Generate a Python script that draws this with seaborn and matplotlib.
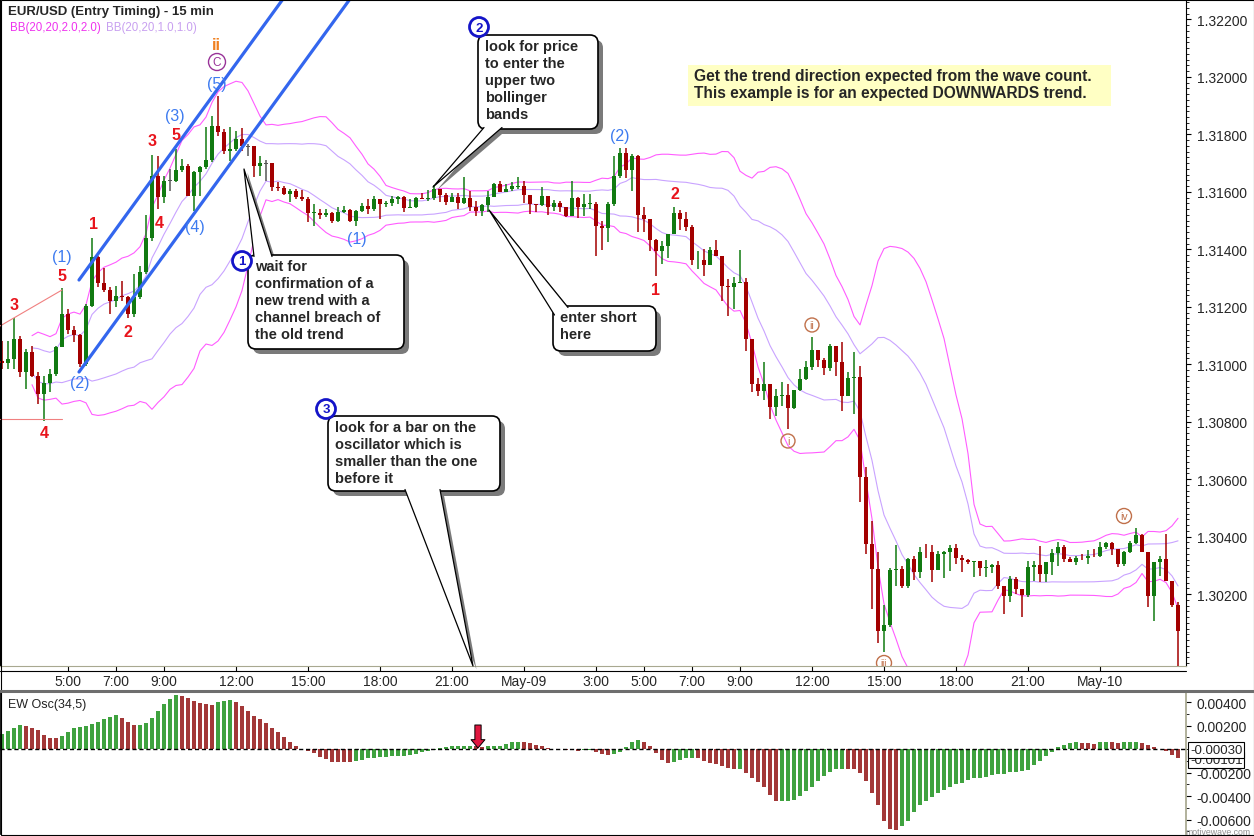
import matplotlib
matplotlib.use('Agg')
import matplotlib.pyplot as plt
from matplotlib.patches import FancyBboxPatch, Polygon, Circle, Rectangle, FancyArrowPatch
from matplotlib.lines import Line2D
from matplotlib.transforms import Affine2D
from matplotlib.ticker import MultipleLocator, FormatStrFormatter
import numpy as np
import pandas as pd
import seaborn as sns

sns.set_theme(style='white')
plt.rcParams['font.family'] = ['Liberation Sans', 'DejaVu Sans']

# ---------------- data (15 min EUR/USD bars) ----------------
start_time = '2013-05-08 02:15'
first_open = 1.31012

close = [
    1.31003, 1.31018, 1.31088, 1.30974, 1.31042, 1.30960, 1.30896, 1.30935, 1.30966, 1.31059,
    1.31175, 1.31120, 1.31102, 1.31001, 1.31204, 1.31372, 1.31283, 1.31259, 1.31221, 1.31238,
    1.31233, 1.31175, 1.31233, 1.31320, 1.31438, 1.31656, 1.31581, 1.31639, 1.31639, 1.31677,
    1.31689, 1.31586, 1.31668, 1.31685, 1.31712, 1.31830, 1.31807, 1.31743, 1.31749, 1.31784,
    1.31758, 1.31758, 1.31691, 1.31699, 1.31699, 1.31616, 1.31613, 1.31592, 1.31602, 1.31581,
    1.31575, 1.31526, 1.31528, 1.31520, 1.31525, 1.31498, 1.31529, 1.31538, 1.31498, 1.31534,
    1.31552, 1.31540, 1.31575, 1.31558, 1.31562, 1.31574, 1.31581, 1.31544, 1.31547, 1.31577,
    1.31576, 1.31578, 1.31610, 1.31590, 1.31566, 1.31581, 1.31561, 1.31578, 1.31546, 1.31534,
    1.31554, 1.31583, 1.31627, 1.31601, 1.31610, 1.31619, 1.31620, 1.31590, 1.31558, 1.31554,
    1.31584, 1.31548, 1.31561, 1.31546, 1.31517, 1.31577, 1.31546, 1.31558, 1.31559, 1.31480,
    1.31475, 1.31558, 1.31656, 1.31735, 1.31677, 1.31726, 1.31519, 1.31505, 1.31433, 1.31395,
    1.31412, 1.31453, 1.31526, 1.31505, 1.31476, 1.31362, 1.31363, 1.31346, 1.31398, 1.31378,
    1.31273, 1.31270, 1.31283, 1.31286, 1.31088, 1.30931, 1.30908, 1.30931, 1.30850, 1.30890,
    1.30894, 1.30848, 1.30910, 1.30949, 1.30991, 1.31050, 1.31016, 1.30986, 1.31065, 1.31007,
    1.30890, 1.30951, 1.30956, 1.30606, 1.30374, 1.30287, 1.30073, 1.30093, 1.30285, 1.30286,
    1.30229, 1.30322, 1.30278, 1.30348, 1.30345, 1.30285, 1.30340, 1.30345, 1.30360, 1.30325,
    1.30317, 1.30313, 1.30314, 1.30290, 1.30294, 1.30300, 1.30229, 1.30194, 1.30253, 1.30218,
    1.30197, 1.30293, 1.30300, 1.30270, 1.30313, 1.30343, 1.30363, 1.30322, 1.30313, 1.30326,
    1.30325, 1.30334, 1.30331, 1.30363, 1.30377, 1.30357, 1.30305, 1.30346, 1.30377, 1.30406,
    1.30348, 1.30194, 1.30311, 1.30322, 1.30247, 1.30162, 1.30073,
]

high = [
    1.31082, 1.31082, 1.31160, 1.31099, 1.31053, 1.31065, 1.30972, 1.30960, 1.30983, 1.31065,
    1.31264, 1.31192, 1.31134, 1.31105, 1.31210, 1.31438, 1.31378, 1.31334, 1.31268, 1.31273,
    1.31291, 1.31238, 1.31314, 1.31343, 1.31519, 1.31728, 1.31726, 1.31656, 1.31679, 1.31749,
    1.31714, 1.31697, 1.31674, 1.31689, 1.31825, 1.31865, 1.31934, 1.31819, 1.31825, 1.31813,
    1.31821, 1.31766, 1.31758, 1.31726, 1.31711, 1.31700, 1.31633, 1.31621, 1.31610, 1.31610,
    1.31607, 1.31581, 1.31558, 1.31540, 1.31540, 1.31531, 1.31546, 1.31552, 1.31540, 1.31538,
    1.31561, 1.31575, 1.31586, 1.31575, 1.31569, 1.31586, 1.31586, 1.31586, 1.31575, 1.31581,
    1.31595, 1.31607, 1.31624, 1.31610, 1.31596, 1.31595, 1.31596, 1.31650, 1.31604, 1.31569,
    1.31558, 1.31604, 1.31631, 1.31639, 1.31627, 1.31635, 1.31650, 1.31639, 1.31590, 1.31558,
    1.31616, 1.31586, 1.31571, 1.31569, 1.31546, 1.31639, 1.31583, 1.31592, 1.31592, 1.31564,
    1.31497, 1.31564, 1.31726, 1.31751, 1.31751, 1.31732, 1.31728, 1.31546, 1.31505, 1.31436,
    1.31430, 1.31453, 1.31546, 1.31538, 1.31529, 1.31483, 1.31395, 1.31401, 1.31407, 1.31433,
    1.31378, 1.31297, 1.31302, 1.31399, 1.31299, 1.31088, 1.30951, 1.31009, 1.30931, 1.30914,
    1.30937, 1.30931, 1.30910, 1.30983, 1.31012, 1.31094, 1.31050, 1.31021, 1.31070, 1.31065,
    1.31078, 1.30972, 1.31042, 1.30995, 1.30641, 1.30455, 1.30348, 1.30162, 1.30290, 1.30371,
    1.30298, 1.30324, 1.30333, 1.30364, 1.30375, 1.30371, 1.30351, 1.30351, 1.30371, 1.30375,
    1.30336, 1.30322, 1.30316, 1.30316, 1.30320, 1.30305, 1.30316, 1.30229, 1.30264, 1.30259,
    1.30218, 1.30316, 1.30316, 1.30366, 1.30313, 1.30357, 1.30382, 1.30371, 1.30328, 1.30332,
    1.30340, 1.30354, 1.30357, 1.30380, 1.30382, 1.30382, 1.30357, 1.30351, 1.30386, 1.30429,
    1.30409, 1.30348, 1.30311, 1.30332, 1.30409, 1.30247, 1.30173,
]

low = [
    1.30983, 1.30983, 1.30983, 1.30955, 1.30914, 1.30955, 1.30862, 1.30804, 1.30902, 1.30960,
    1.31059, 1.31105, 1.31076, 1.30989, 1.30995, 1.31198, 1.31268, 1.31250, 1.31175, 1.31198,
    1.31221, 1.31160, 1.31163, 1.31227, 1.31314, 1.31430, 1.31540, 1.31561, 1.31604, 1.31633,
    1.31668, 1.31586, 1.31534, 1.31586, 1.31679, 1.31703, 1.31795, 1.31732, 1.31708, 1.31743,
    1.31743, 1.31726, 1.31650, 1.31656, 1.31639, 1.31604, 1.31604, 1.31589, 1.31564, 1.31575,
    1.31569, 1.31494, 1.31482, 1.31507, 1.31511, 1.31492, 1.31495, 1.31526, 1.31495, 1.31482,
    1.31529, 1.31523, 1.31534, 1.31507, 1.31546, 1.31550, 1.31558, 1.31529, 1.31543, 1.31543,
    1.31575, 1.31569, 1.31573, 1.31564, 1.31554, 1.31566, 1.31540, 1.31558, 1.31534, 1.31515,
    1.31515, 1.31529, 1.31583, 1.31598, 1.31598, 1.31604, 1.31610, 1.31561, 1.31523, 1.31531,
    1.31552, 1.31519, 1.31534, 1.31529, 1.31511, 1.31515, 1.31508, 1.31515, 1.31540, 1.31378,
    1.31399, 1.31425, 1.31552, 1.31647, 1.31647, 1.31604, 1.31461, 1.31461, 1.31395, 1.31306,
    1.31349, 1.31369, 1.31453, 1.31468, 1.31465, 1.31344, 1.31332, 1.31306, 1.31344, 1.31378,
    1.31221, 1.31169, 1.31192, 1.31283, 1.31047, 1.30902, 1.30890, 1.30877, 1.30809, 1.30821,
    1.30856, 1.30775, 1.30844, 1.30908, 1.30946, 1.30981, 1.30989, 1.30963, 1.30977, 1.30960,
    1.30838, 1.30890, 1.30827, 1.30522, 1.30340, 1.30148, 1.30030, 1.29998, 1.30084, 1.30229,
    1.30220, 1.30220, 1.30250, 1.30255, 1.30325, 1.30243, 1.30285, 1.30255, 1.30282, 1.30305,
    1.30276, 1.30305, 1.30259, 1.30264, 1.30259, 1.30274, 1.30218, 1.30131, 1.30174, 1.30200,
    1.30119, 1.30189, 1.30247, 1.30241, 1.30241, 1.30267, 1.30299, 1.30313, 1.30313, 1.30302,
    1.30317, 1.30305, 1.30328, 1.30328, 1.30357, 1.30336, 1.30293, 1.30297, 1.30343, 1.30374,
    1.30348, 1.30154, 1.30108, 1.30264, 1.30247, 1.30154, 1.29951,
]

# EW Osc(34,5) histogram values
ew_osc = [
    0.00127, 0.00155, 0.00183, 0.00203, 0.00200, 0.00183, 0.00161, 0.00118, 0.00096, 0.00094,
    0.00110, 0.00144, 0.00178, 0.00189, 0.00195, 0.00212, 0.00231, 0.00254, 0.00276, 0.00288,
    0.00262, 0.00231, 0.00203, 0.00205, 0.00220, 0.00265, 0.00324, 0.00381, 0.00423, 0.00457,
    0.00455, 0.00434, 0.00412, 0.00389, 0.00384, 0.00372, 0.00398, 0.00409, 0.00415, 0.00400,
    0.00367, 0.00324, 0.00285, 0.00254, 0.00220, 0.00180, 0.00147, 0.00104, 0.00056, 0.00028,
    -0.00003, -0.00014, -0.00037, -0.00068, -0.00085, -0.00107, -0.00108, -0.00110, -0.00113, -0.00102,
    -0.00090, -0.00079, -0.00073, -0.00070, -0.00065, -0.00059, -0.00056, -0.00055, -0.00051, -0.00039,
    -0.00025, -0.00017, -0.00006, 0.00011, 0.00020, 0.00025, 0.00026, 0.00026, 0.00027, 0.00026,
    0.00017, 0.00025, 0.00026, 0.00027, 0.00042, 0.00059, 0.00060, 0.00056, 0.00048, 0.00034,
    0.00023, 0.00008, 0.00002, -0.00003, -0.00011, -0.00012, -0.00013, -0.00010, -0.00008, -0.00023,
    -0.00042, -0.00051, -0.00045, -0.00028, 0.00017, 0.00062, 0.00076, 0.00056, 0.00025, -0.00037,
    -0.00093, -0.00116, -0.00113, -0.00096, -0.00079, -0.00073, -0.00079, -0.00102, -0.00118, -0.00130,
    -0.00144, -0.00158, -0.00169, -0.00168, -0.00206, -0.00243, -0.00282, -0.00321, -0.00395, -0.00440,
    -0.00439, -0.00438, -0.00431, -0.00398, -0.00361, -0.00319, -0.00276, -0.00228, -0.00192, -0.00169,
    -0.00168, -0.00170, -0.00171, -0.00206, -0.00276, -0.00375, -0.00479, -0.00609, -0.00677, -0.00685,
    -0.00657, -0.00609, -0.00539, -0.00479, -0.00446, -0.00412, -0.00378, -0.00347, -0.00321, -0.00299,
    -0.00285, -0.00262, -0.00248, -0.00245, -0.00234, -0.00223, -0.00214, -0.00209, -0.00197, -0.00192,
    -0.00186, -0.00180, -0.00135, -0.00099, -0.00059, -0.00023, 0.00017, 0.00034, 0.00048, 0.00056,
    0.00055, 0.00048, 0.00042, 0.00056, 0.00057, 0.00056, 0.00051, 0.00056, 0.00057, 0.00058,
    0.00048, 0.00034, 0.00017, 0.00002, -0.00017, -0.00051, -0.00073,
]

tick_times = ['2013-05-08 05:00', '2013-05-08 07:00', '2013-05-08 09:00', '2013-05-08 12:00',
              '2013-05-08 15:00', '2013-05-08 18:00', '2013-05-08 21:00', '2013-05-09 00:00',
              '2013-05-09 03:00', '2013-05-09 05:00', '2013-05-09 07:00', '2013-05-09 09:00',
              '2013-05-09 12:00', '2013-05-09 15:00', '2013-05-09 18:00', '2013-05-09 21:00',
              '2013-05-10 00:00']

price_ticks = [1.302, 1.304, 1.306, 1.308, 1.310, 1.312, 1.314, 1.316, 1.318, 1.320, 1.322]
osc_ticks = [-0.006, -0.004, -0.002, 0.002, 0.004]

# ---------------- colours ----------------
C_UP, C_DN, C_FLAT = '#117a11', '#a30000', '#555555'
O_UP, O_DN = '#3fa23f', '#a33838'
BB2, BB1 = '#ff5cff', '#c9a3ff'
BLUE, RED, ORANGE, PURPLE, BROWN = '#3d7bf0', '#e8141c', '#f08020', '#993399', '#c0704a'

# ---------------- frame ----------------
times = pd.date_range(start_time, periods=len(close), freq='15min')
df = pd.DataFrame({'time': times, 'close': close, 'high': high, 'low': low})
df['bar'] = np.arange(len(df))
df['open'] = np.r_[first_open, df['close'].values[:-1]]
df['high'] = np.maximum(df['high'], df[['open', 'close']].max(axis=1))
df['low'] = np.minimum(df['low'], df[['open', 'close']].min(axis=1))

mid = df['close'].rolling(20, min_periods=6).mean()
sd = df['close'].rolling(20, min_periods=6).std(ddof=0)

W, H = 1254, 837
fig = plt.figure(figsize=(W / 100, H / 100), dpi=100, facecolor='white')
ref = Affine2D().scale(1 / W, -1 / H).translate(0, 1) + fig.transFigure


def axbox(x0, y0, x1, y1):
    return [x0 / W, 1 - y1 / H, (x1 - x0) / W, (y1 - y0) / H]


ax = fig.add_axes(axbox(0, 0, 1186, 667))
ax2 = fig.add_axes(axbox(0, 694, 1186, 835))

# ---------------- price panel ----------------
for series, col in [(mid + 2 * sd, BB2), (mid - 2 * sd, BB2), (mid + sd, BB1), (mid - sd, BB1)]:
    sns.lineplot(x=df['bar'], y=series, ax=ax, color=col, linewidth=0.8, zorder=2)

cols = np.where(df['close'] > df['open'], C_UP, np.where(df['close'] < df['open'], C_DN, C_FLAT))
ax.vlines(df['bar'], df['low'], df['high'], colors=cols, linewidth=1.1, zorder=3)
body = (df['close'] - df['open']).abs()
body_h = np.maximum(body, 0.000022)
body_b = df[['open', 'close']].min(axis=1) - (body_h - body) / 2
ax.bar(df['bar'], body_h, bottom=body_b, width=0.7, color=cols, linewidth=0, zorder=4)

ax.set_xlim(-1 / 3, 197.33)
ax.set_ylim(1.32271 - 667 * 0.0000348, 1.32271)
ax.set_xlabel('')
ax.set_ylabel('')

tl = pd.to_datetime(tick_times)
ax.set_xticks(times.get_indexer(tl))
ax.set_xticklabels([t.strftime('%b-%d') if t.hour == 0 else f'{t.hour}:00' for t in tl])
ax.tick_params(axis='x', direction='out', length=3.6, width=0.8, pad=2.5, labelsize=10,
               color='black', bottom=True)
ax.yaxis.tick_right()
ax.set_yticks(price_ticks)
ax.yaxis.set_major_formatter(FormatStrFormatter('%.5f'))
ax.yaxis.set_minor_locator(MultipleLocator(0.0002))
ax.tick_params(axis='y', which='major', direction='out', length=3.6, width=0.8, pad=4, labelsize=10,
               right=True, color='black')
ax.tick_params(axis='y', which='minor', direction='out', length=2.0, width=0.6, right=True, color='black')
ax.spines['top'].set_visible(False)
ax.spines['left'].set_color('black')
ax.spines['right'].set_color('black')
ax.spines['bottom'].set_color('#a8a890')
for s in ax.spines.values():
    s.set_linewidth(0.8)

# ---------------- oscillator panel ----------------
odf = pd.DataFrame({'bar': df['bar'], 'osc': ew_osc})
osc_cols = np.where(odf['osc'].diff().fillna(1) >= 0, O_UP, O_DN)
sns.barplot(data=odf, x='bar', y='osc', native_scale=True, width=0.8, color=O_UP,
            saturation=1, errorbar=None, linewidth=0, ax=ax2)
for patch, c in zip(ax2.patches, osc_cols):
    patch.set_facecolor(c)
ax2.axhline(0, color='black', lw=1.0, ls=(0, (3, 2)), zorder=5)
ax2.set_xlim(-1 / 3, 197.33)
ax2.set_ylim(-0.00723, 0.00477)
ax2.set_xlabel('')
ax2.set_ylabel('')
ax2.set_xticks([])
ax2.yaxis.tick_right()
ax2.set_yticks(osc_ticks)
ax2.yaxis.set_major_formatter(FormatStrFormatter('%.5f'))
ax2.yaxis.set_minor_locator(MultipleLocator(0.001))
ax2.tick_params(axis='y', which='major', direction='out', length=3.6, width=0.8, pad=4, labelsize=10,
                right=True, color='black')
ax2.tick_params(axis='y', which='minor', direction='out', length=2.0, width=0.6, right=True, color='black')
ax2.spines['top'].set_visible(False)
ax2.spines['bottom'].set_visible(False)
ax2.spines['left'].set_color('black')
ax2.spines['right'].set_color('#a8a890')

# ---------------- frame lines / headers ----------------
fig.add_artist(Line2D([0, 1186], [672, 672], transform=ref, color='black', lw=0.8))
fig.add_artist(Line2D([0, W], [691.5, 691.5], transform=ref, color='#6e6e6e', lw=2.2))
fig.add_artist(Rectangle((0.5, 0.5), W - 1, H - 1, transform=ref, fill=False, ec='black', lw=0.8))

fig.text(8, 12, 'EUR/USD (Entry Timing) - 15 min', transform=ref, fontsize=9.5,
         fontweight='bold', va='center', ha='left')
fig.text(10, 28, 'BB(20,20,2.0,2.0)', transform=ref, fontsize=8.3, color='#ee33ee', va='center')
fig.text(106, 28, 'BB(20,20,1.0,1.0)', transform=ref, fontsize=8.3, color='#c8a0f0', va='center')
fig.text(8, 705, 'EW Osc(34,5)', transform=ref, fontsize=9, color='#222222', va='center')
fig.text(1251, 832.5, 'motivewave.com', transform=ref, fontsize=6.3, color='#909090',
         ha='right', va='center', zorder=22)

# value tags on the oscillator axis
fig.text(1190, 761, '-0.00101', transform=ref, fontsize=9.5, va='center', ha='left', zorder=20,
         bbox=dict(boxstyle='square,pad=0.12', fc='white', ec='black', lw=0.8))
fig.text(1190, 751, '-0.00030', transform=ref, fontsize=9.5, va='center', ha='left', zorder=21,
         bbox=dict(boxstyle='square,pad=0.12', fc='white', ec='black', lw=0.8))

# entry arrow above oscillator bar
fig.add_artist(FancyArrowPatch((478, 726), (478, 749), transform=ref, mutation_scale=10,
                               arrowstyle='simple,head_length=0.6,head_width=1.0,tail_width=0.45',
                               fc='#e0173f', ec='black', lw=0.7, shrinkA=0, shrinkB=0, zorder=20))

# ---------------- wave count annotations ----------------
ax.add_line(Line2D([79, 283], [281, 0], transform=ref, color='#3366ee', lw=2.3, zorder=6))
ax.add_line(Line2D([79, 350], [373, 0], transform=ref, color='#3366ee', lw=2.3, zorder=6))
ax.add_line(Line2D([0, 62], [327, 291], transform=ref, color='#f08080', lw=0.8, zorder=5))
ax.add_line(Line2D([0, 62], [420, 420], transform=ref, color='#f08080', lw=0.8, zorder=5))

wave_labels = [
    ('ii', 216, 45, ORANGE, 'bold'), ('(5)', 217, 85, BLUE, 'normal'), ('(3)', 175, 117, BLUE, 'normal'),
    ('5', 176, 135, RED, 'bold'), ('3', 152, 142, RED, 'bold'), ('4', 159, 224, RED, 'bold'),
    ('(4)', 195, 228, BLUE, 'normal'), ('1', 93, 225, RED, 'bold'), ('(1)', 62, 258, BLUE, 'normal'),
    ('5', 62, 277, RED, 'bold'), ('3', 14, 306, RED, 'bold'), ('2', 128, 333, RED, 'bold'),
    ('(2)', 80, 384, BLUE, 'normal'), ('4', 44, 434, RED, 'bold'), ('(1)', 357, 240, BLUE, 'normal'),
    ('(2)', 620, 136, BLUE, 'normal'), ('2', 675, 195, RED, 'bold'), ('1', 656, 291, RED, 'bold'),
]
for s, x, y, c, w in wave_labels:
    ax.text(x, y, s, transform=ref, color=c, fontsize=11.5, fontweight=w, ha='center', va='center', zorder=7)

circled = [('C', 217, 63, PURPLE, 8.5, 8.5), ('ii', 812, 326, BROWN, 7, 7.5), ('i', 788, 442, BROWN, 7, 7.5),
           ('iii', 884, 664, BROWN, 7.5, 7), ('iv', 1124, 517, BROWN, 7.5, 7.5)]
for s, x, y, c, r, fs in circled:
    ax.add_patch(Circle((x, y), r, transform=ref, fill=False, ec=c, lw=1.0, zorder=7))
    ax.text(x, y, s, transform=ref, color=c, fontsize=fs, ha='center', va='center', zorder=7, clip_on=True)


# ---------------- call-out boxes ----------------
def callout(x0, y0, x1, y1, pointer, text):
    sh = 5
    fig.add_artist(FancyBboxPatch((x0 + sh, y0 + sh), x1 - x0, y1 - y0, transform=ref,
                                  boxstyle='round,pad=0,rounding_size=8', fc='#7a7a7a', ec='none', zorder=10))
    fig.add_artist(Polygon([(px + sh * 0.7, py + sh * 0.7) for px, py in pointer], closed=True,
                           transform=ref, fc='#7a7a7a', ec='none', zorder=10))
    fig.add_artist(FancyBboxPatch((x0, y0), x1 - x0, y1 - y0, transform=ref,
                                  boxstyle='round,pad=0,rounding_size=8', fc='white', ec='black',
                                  lw=1.2, zorder=12))
    fig.add_artist(Polygon(pointer, closed=True, transform=ref, fc='white', ec='none', zorder=13))
    (bx1, by1), (bx2, by2), (tx, ty) = pointer
    fig.add_artist(Line2D([bx1, tx, bx2], [by1, ty, by2], transform=ref, color='black', lw=0.9, zorder=14))
    fig.text(x0 + 7, y0 + 4, text, transform=ref, ha='left', va='top', fontsize=10.5,
             fontweight='bold', linespacing=1.27, zorder=15)


callout(248, 256, 404, 350, [(254, 257.5), (272, 257.5), (244, 170)],
        'wait for\nconfirmation of a\nnew trend with a\nchannel breach of\nthe old trend')
callout(478, 36, 598, 130, [(484, 128.5), (502, 128.5), (433, 188)],
        'look for price\nto enter the\nupper two\nbollinger\nbands')
callout(553, 307, 656, 352, [(554.5, 316), (568, 308.5), (489, 211)], 'enter short\nhere')
callout(328, 417, 500, 492, [(405, 490.5), (440, 490.5), (473, 667)],
        'look for a bar on the\noscillator which is\nsmaller than the one\nbefore it')

for num, x, y in [('1', 242, 262), ('2', 479, 28), ('3', 326, 410)]:
    fig.add_artist(Circle((x, y), 9.5, transform=ref, fc='white', ec='#1414c8', lw=2.0, zorder=16))
    fig.text(x, y + 0.5, num, transform=ref, color='#1414c8', fontsize=9.5, fontweight='bold',
             ha='center', va='center', zorder=17)

fig.add_artist(Rectangle((688, 66), 423, 41, transform=ref, fc='#ffffc4', ec='none', zorder=10))
fig.text(694, 69, 'Get the trend direction expected from the wave count.\n'
                  'This example is for an expected DOWNWARDS trend.',
         transform=ref, fontsize=11.2, fontweight='bold', ha='left', va='top', linespacing=1.2, zorder=11)

fig.savefig('out.png', dpi=100, facecolor='white')
